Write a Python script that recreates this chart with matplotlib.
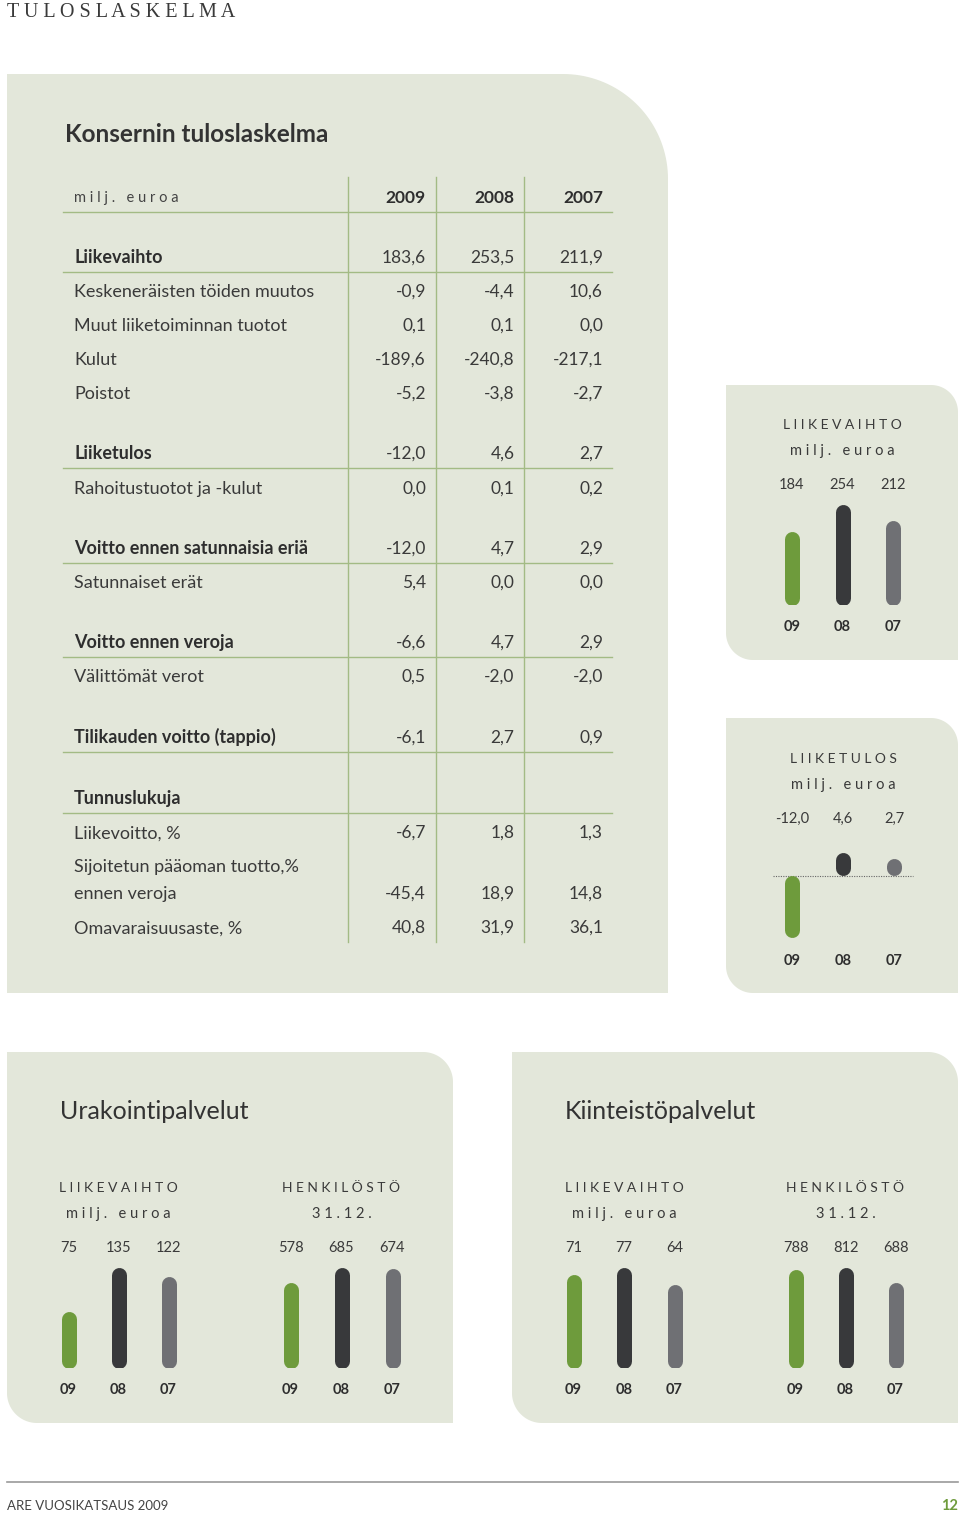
import numpy as np
import matplotlib
matplotlib.use("Agg")
import matplotlib.pyplot as plt
from matplotlib.patches import Polygon
from matplotlib import transforms

# ------------------------------------------------------------------ data
page_title = "TULOSLASKELMA"
table_title = "Konsernin tuloslaskelma"
unit_label = "milj. euroa"
years = ["2009", "2008", "2007"]
row_labels = [
    "Liikevaihto", "Keskeneräisten töiden muutos", "Muut liiketoiminnan tuotot",
    "Kulut", "Poistot", "Liiketulos", "Rahoitustuotot ja -kulut",
    "Voitto ennen satunnaisia eriä", "Satunnaiset erät", "Voitto ennen veroja",
    "Välittömät verot", "Tilikauden voitto (tappio)", "Tunnuslukuja",
    "Liikevoitto, %", "Sijoitetun pääoman tuotto,%\nennen veroja", "Omavaraisuusaste, %",
]
values_2009 = [183.6, -0.9, 0.1, -189.6, -5.2, -12.0, 0.0, -12.0, 5.4, -6.6, 0.5, -6.1, None, -6.7, -45.4, 40.8]
values_2008 = [253.5, -4.4, 0.1, -240.8, -3.8, 4.6, 0.1, 4.7, 0.0, 4.7, -2.0, 2.7, None, 1.8, 18.9, 31.9]
values_2007 = [211.9, 10.6, 0.0, -217.1, -2.7, 2.7, 0.2, 2.9, 0.0, 2.9, -2.0, 0.9, None, 1.3, 14.8, 36.1]

chart_years = ["09", "08", "07"]
konserni_liikevaihto = [184, 254, 212]
konserni_liiketulos = [-12.0, 4.6, 2.7]
urak_liikevaihto = [75, 135, 122]
urak_henkilosto = [578, 685, 674]
kiint_liikevaihto = [71, 77, 64]
kiint_henkilosto = [788, 812, 688]

segment_titles = ["Urakointipalvelut", "Kiinteistöpalvelut"]
footer_left = "ARE VUOSIKATSAUS 2009"
footer_right = "12"

# ------------------------------------------------------------------ style
W, H = 960, 1518
PANEL = "#e3e7da"
TEXT = "#3a3a3a"
LINE = "#a3bb85"
BAR_COLORS = ["#6e9b3c", "#38393b", "#6f7074"]
GREEN = "#6e9b3c"

plt.rcParams["font.family"] = ["Lato", "DejaVu Sans"]

fig = plt.figure(figsize=(W / 100, H / 100), dpi=100)
bg = fig.add_axes([0, 0, 1, 1])
bg.set_xlim(0, W)
bg.set_ylim(H, 0)
bg.axis("off")


def spaced(s):
    return " ".join(s)


def txt(x, yc, s, size, ax=None, transform=None, **kw):
    """Draw text so that its cap-centre sits at yc (pixels)."""
    ax = ax or bg
    kw.setdefault("color", TEXT)
    kw.setdefault("ha", "left")
    off = 0.35 * size * 100 / 72
    if transform is None:
        return ax.text(x, yc + off, s, fontsize=size, va="baseline", **kw)
    return ax.text(x, yc + off, s, fontsize=size, va="baseline", transform=transform, **kw)


def panel(x0, y0, x1, y1, tl=0, tr=0, br=0, bl=0):
    def arc(cx, cy, r, t0, t1):
        if r == 0:
            return [(cx, cy)]
        t = np.radians(np.linspace(t0, t1, 40))
        return list(zip(cx + r * np.cos(t), cy + r * np.sin(t)))
    pts = []
    pts += arc(x0 + tl, y0 + tl, tl, 180, 270)
    pts += arc(x1 - tr, y0 + tr, tr, 270, 360)
    pts += arc(x1 - br, y1 - br, br, 0, 90)
    pts += arc(x0 + bl, y1 - bl, bl, 90, 180)
    bg.add_patch(Polygon(pts, closed=True, fc=PANEL, ec="none", zorder=0))


def fmt(v):
    return f"{v:.1f}".replace(".", ",")


# ------------------------------------------------------------------ panels
panel(7, 74, 668, 993, tr=105)
panel(726, 385, 958, 660, tr=27, bl=27)
panel(726, 718, 958, 993, tr=27, bl=27)
panel(7, 1052, 453, 1423, tr=30, bl=30)
panel(512, 1052, 958, 1423, tr=30, bl=30)

# page title
txt(7, 10, spaced(page_title), 14.5, color="#3a3a3a", family=["Liberation Serif", "DejaVu Serif"])

# ------------------------------------------------------------------ table
txt(65, 133, table_title, 17.5, fontweight="bold", color="#333333")
txt(74, 197, spaced(unit_label), 10.5, color="#444444")

col_x = [426, 514.5, 603]
for x, yr in zip(col_x, years):
    txt(x, 197, yr, 12.5, ha="right", fontweight="bold", color="#2e2e2e")

row_y = [257, 291, 325, 359, 393, 453, 488, 548, 582, 642, 676, 737, 798, 832, 893, 927]
bold_idx = {0, 5, 7, 9, 11, 12}
line_x0, line_x1 = 63, 612
bg.plot([line_x0, line_x1], [212, 212], color=LINE, lw=1.0, zorder=1)
for vx in [347.5, 435.5, 524]:
    bg.plot([vx, vx], [177, 942], color=LINE, lw=1.0, zorder=1)

for i, lab in enumerate(row_labels):
    y = row_y[i]
    bold = i in bold_idx
    lines = lab.split("\n")
    for k, ln in enumerate(lines):
        ly = y - (len(lines) - 1 - k) * 27
        txt(74, ly, ln, 13, fontweight="bold" if bold else "normal",
            color="#2e2e2e" if bold else TEXT)
    for x, vals in zip(col_x, [values_2009, values_2008, values_2007]):
        if vals[i] is not None:
            txt(x, y, fmt(vals[i]), 12.5, ha="right", color=TEXT)
    if bold:
        bg.plot([line_x0, line_x1], [y + 15, y + 15], color=LINE, lw=1.0, zorder=1)


# ------------------------------------------------------------------ mini charts
def mini_chart(x_first, spacing, y_top, y_bottom, vals, labels, title, subtitle,
               title_y, value_y, year_y, zero_line=False, lw_px=15):
    n = len(vals)
    x0 = x_first - spacing / 2
    x1 = x0 + n * spacing
    ax = fig.add_axes([x0 / W, 1 - y_bottom / H, (x1 - x0) / W, (y_bottom - y_top) / H])
    ax.patch.set_alpha(0)
    ax.axis("off")
    lo, hi = min(0, min(vals)), max(vals)
    ax.set_xlim(-0.5, n - 0.5)
    ax.set_ylim(lo, hi)
    c = (lw_px / 2) * (hi - lo) / ax.bbox.height
    if zero_line:
        ax.axhline(0, xmin=0.04, xmax=0.96, color="#666666", lw=0.8, ls=(0, (1, 1.2)), zorder=1)
    for i, v in enumerate(vals):
        a, b = sorted((0, v))
        a2, b2 = a + c, b - c
        if a2 >= b2:
            if v >= 0:
                a2 = a + c
                b2 = a2 + 0.25 * c
            else:
                b2 = b - c
                a2 = b2 - 0.25 * c
        ax.plot([i, i], [a2, b2], color=BAR_COLORS[i], lw=lw_px * 0.72,
                solid_capstyle="round", zorder=2)
    tr = transforms.blended_transform_factory(ax.transData, bg.transData)
    cx = (x0 + x1) / 2
    txt(cx, title_y, spaced(title), 10, ha="center", color="#3a3a3a")
    txt(cx, title_y + 26, spaced(subtitle), 10.5, ha="center", color="#3a3a3a")
    for i, lab in enumerate(labels):
        txt(i, value_y, lab, 10.5, ax=bg, transform=tr, ha="center", color="#3a3a3a")
        txt(i, year_y, chart_years[i], 10.5, ax=bg, transform=tr, ha="center",
            fontweight="bold", color="#2e2e2e")
    return ax


mini_chart(792, 50.5, 504, 605, konserni_liikevaihto,
           [str(v) for v in konserni_liikevaihto], "LIIKEVAIHTO", unit_label,
           424, 484, 626)
mini_chart(792, 51, 852, 938, konserni_liiketulos,
           [fmt(v) for v in konserni_liiketulos], "LIIKETULOS", unit_label,
           758, 818, 960, zero_line=True)

mini_chart(68.5, 50, 1267, 1368, urak_liikevaihto,
           [str(v) for v in urak_liikevaihto], "LIIKEVAIHTO", unit_label,
           1187, 1247, 1389)
mini_chart(290.5, 51, 1267, 1368, urak_henkilosto,
           [str(v) for v in urak_henkilosto], "HENKILÖSTÖ", "31.12.",
           1187, 1247, 1389)
mini_chart(573.5, 50.5, 1267, 1368, kiint_liikevaihto,
           [str(v) for v in kiint_liikevaihto], "LIIKEVAIHTO", unit_label,
           1187, 1247, 1389)
mini_chart(795.5, 50, 1267, 1368, kiint_henkilosto,
           [str(v) for v in kiint_henkilosto], "HENKILÖSTÖ", "31.12.",
           1187, 1247, 1389)

txt(60, 1110, segment_titles[0], 18, color="#333333")
txt(565, 1110, segment_titles[1], 18, color="#333333")

# ------------------------------------------------------------------ footer
bg.plot([7, 958], [1482, 1482], color="#9a9a9a", lw=1.2)
txt(7, 1505, footer_left, 9.5, color="#444444")
txt(958, 1505, footer_right, 10.5, ha="right", fontweight="bold", color=GREEN)

fig.savefig("out.png", dpi=100)
